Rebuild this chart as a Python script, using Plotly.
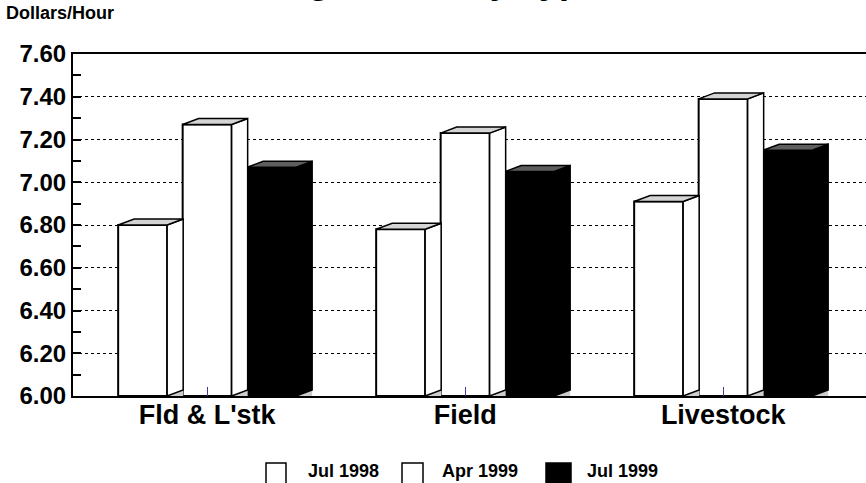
import plotly.graph_objects as go

# ---------------- data ----------------
categories = ["Fld & L'stk", "Field", "Livestock"]
series_names = ["Jul 1998", "Apr 1999", "Jul 1999"]
jul_1998 = [6.80, 6.78, 6.91]
apr_1999 = [7.27, 7.23, 7.39]
jul_1999 = [7.07, 7.05, 7.15]
y_tick_values = [6.00, 6.20, 6.40, 6.60, 6.80, 7.00, 7.20, 7.40, 7.60]
title_text = "Wage Rates by Type"
y_unit_text = "Dollars/Hour"

# ---------------- layout geometry ----------------
W, H = 866, 483
OFF = 0  # page body margin removed via post_script
PL, PT, PB = 73, 54, 396  # plot edges in page pixels
L = PL - OFF
T = PT - OFF
B = H - (PB - OFF)
R = 0
plot_w = W - L - R
plot_h = H - T - B
Y0, Y1 = 6.0, 7.6
px_per_cat = 258.0
X0 = -0.52
X1 = X0 + plot_w / px_per_cat

bar_w = 49 / px_per_cat
step = 64.5 / px_per_cat
dx = 16 / px_per_cat
dy = 6 * (Y1 - Y0) / plot_h

def px_x(x):
    return (x - OFF - L) / plot_w

def px_y(y):
    return (H - B - (y - OFF)) / plot_h

series = [jul_1998, apr_1999, jul_1999]
front_cols = ["white", "white", "black"]
side_cols = ["white", "white", "black"]
top_cols = ["#d4d4d4", "#d4d4d4", "#5e5e5e"]
floor_col = "#cccccc"

fig = go.Figure()

for i, vals in enumerate(series):
    off = (i - 1) * step
    xs = [c + off for c in range(len(categories))]
    fig.add_trace(go.Bar(
        x=xs, y=[v - Y0 for v in vals], base=Y0, width=bar_w,
        marker=dict(color=front_cols[i], line=dict(color="black", width=2)),
        name=series_names[i], showlegend=False, hoverinfo="skip"))

for i, vals in enumerate(series):
    off = (i - 1) * step
    fx, fy, sx, sy, tx, ty = [], [], [], [], [], []
    for c, v in enumerate(vals):
        x = c + off
        xl, xr = x - bar_w / 2, x + bar_w / 2
        fx += [xr, xr + dx, xr + dx, xr, None]
        fy += [Y0, Y0, Y0 + dy, Y0, None]
        sx += [xr, xr + dx, xr + dx, xr, xr, None]
        sy += [Y0, Y0 + dy, v + dy, v, Y0, None]
        tx += [xl, xl + dx, xr + dx, xr, xl, None]
        ty += [v, v + dy, v + dy, v, v, None]
    fig.add_trace(go.Scatter(x=fx, y=fy, mode="lines", fill="toself",
                             fillcolor=floor_col, line=dict(width=0),
                             showlegend=False, hoverinfo="skip"))
    fig.add_trace(go.Scatter(x=sx, y=sy, mode="lines", fill="toself",
                             fillcolor=side_cols[i], line=dict(color="black", width=1.5),
                             showlegend=False, hoverinfo="skip"))
    fig.add_trace(go.Scatter(x=tx, y=ty, mode="lines", fill="toself",
                             fillcolor=top_cols[i], line=dict(color="black", width=1.5),
                             showlegend=False, hoverinfo="skip"))

font_family = "Liberation Sans, Arial, sans-serif"

fig.update_layout(
    width=W, height=H,
    margin=dict(l=L, r=R, t=T, b=B, pad=0, autoexpand=False),
    paper_bgcolor="white", plot_bgcolor="white",
    showlegend=False,
    font=dict(family=font_family, color="black"),
    xaxis=dict(
        range=[X0, X1], tickvals=list(range(len(categories))), ticktext=categories,
        tickfont=dict(size=27, weight="bold", color="black"),
        ticks="inside", ticklen=9, tickwidth=1, tickcolor="#3c3ca0",
        ticklabelstandoff=-6,
        showline=True, linecolor="black", linewidth=2, mirror=True,
        showgrid=False, zeroline=False, layer="above traces", automargin=False,
    ),
    yaxis=dict(
        range=[Y0, Y1], tickvals=y_tick_values, tickformat=".2f",
        tickfont=dict(size=24, weight="bold", color="black"),
        ticks="inside", ticklen=8, tickwidth=1.5, tickcolor="black",
        minor=dict(dtick=0.1, ticks="inside", ticklen=8, tickwidth=1.5,
                   tickcolor="black", showgrid=False),
        showline=True, linecolor="black", linewidth=2, mirror=False,
        showgrid=True, gridcolor="black", gridwidth=1, griddash="dot",
        zeroline=False, layer="above traces", automargin=False,
    ),
)

# title (partially off the top of the page) and unit label
fig.add_annotation(text=title_text, xref="paper", yref="paper",
                   x=px_x(428), y=px_y(3), xanchor="center", yanchor="bottom",
                   showarrow=False, font=dict(size=36, weight="bold", color="black"))
fig.add_annotation(text=y_unit_text, xref="paper", yref="paper",
                   x=px_x(4), y=px_y(13), xanchor="left", yanchor="middle",
                   showarrow=False, font=dict(size=18, weight="bold", color="black"))

# custom legend
legend_boxes = [(266, 286), (402, 423), (546, 571)]
legend_text_x = [306, 440, 585]
for i, name in enumerate(series_names):
    x_a, x_b = legend_boxes[i]
    fig.add_shape(type="rect", xref="paper", yref="paper",
                  x0=px_x(x_a), x1=px_x(x_b), y0=px_y(486), y1=px_y(463),
                  fillcolor=front_cols[i], line=dict(color="black", width=1.5))
    fig.add_annotation(text=name, xref="paper", yref="paper",
                       x=px_x(legend_text_x[i]), y=px_y(471), xanchor="left", yanchor="middle",
                       showarrow=False, font=dict(size=18, weight="bold", color="black"))

fig.write_html(
    "out.html",
    config={"displayModeBar": False},
    post_script="document.body.style.margin='0';document.body.style.overflow='hidden';",
)
